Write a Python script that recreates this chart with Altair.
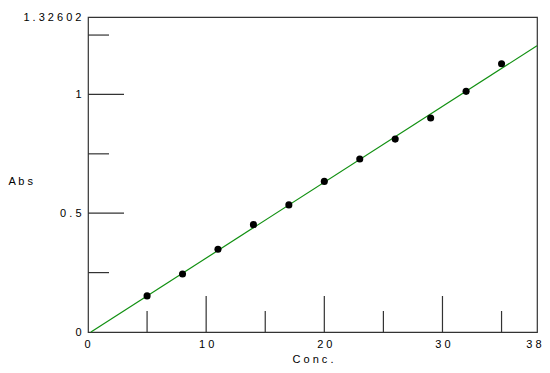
import altair as alt
import pandas as pd

# data
conc = [5, 8, 11, 14, 17, 20, 23, 26, 29, 32, 35]
absorb = [0.152, 0.244, 0.348, 0.452, 0.535, 0.634, 0.728, 0.812, 0.901, 1.013, 1.129]
fit_x = [0.25, 38]
fit_y = [0.0, 1.205]
x_labels = [0, 10, 20, 30, 38]
y_labels = [0, 0.5, 1, 1.32602]
x_major = [10, 20, 30]
x_minor = [5, 15, 25, 35]
y_major = [0.5, 1.0]
y_minor = [0.25, 0.75, 1.25]

W, H = 449, 315
FONT = "Liberation Sans"
FS = 11
X_DOM = [0, 38]
Y_DOM = [0, 1.32602]

pts = pd.DataFrame({"Conc": conc, "Abs": absorb})
fit = pd.DataFrame({"Conc": fit_x, "Abs": fit_y})

xs = alt.Scale(domain=X_DOM, nice=False, zero=False)
ys = alt.Scale(domain=Y_DOM, nice=False, zero=False)

spaced = "join(split(toString(datum.value), ''), ' ')"

x_axis = alt.Axis(
    values=x_labels, labelExpr=spaced, grid=False, domain=False,
    ticks=False, labelPadding=6, labelFont=FONT, labelFontSize=FS, labelColor="black",
    labelOverlap=False, labelFlush=True, labelFlushOffset=4,
    title="C o n c .", titleFont=FONT, titleFontSize=FS, titleFontWeight="normal",
    titleColor="black", titleY=27, titleBaseline="middle",
)
y_axis = alt.Axis(
    values=y_labels, labelExpr=spaced, grid=False, domain=False,
    ticks=False, labelPadding=7, labelFont=FONT, labelFontSize=FS, labelColor="black",
    labelOverlap=False, labelFlush=False,
    title="A b s", titleAngle=0, titleAlign="left", titleX=-80, titleY=164,
    titleBaseline="middle", titleFont=FONT, titleFontSize=FS, titleFontWeight="normal",
    titleColor="black",
)

line = alt.Chart(fit).mark_line(color="#119011", strokeWidth=1.2).encode(
    x=alt.X("Conc:Q", scale=xs, axis=x_axis),
    y=alt.Y("Abs:Q", scale=ys, axis=y_axis),
)
dots = alt.Chart(pts).mark_circle(color="black", opacity=1, size=50).encode(
    x=alt.X("Conc:Q", scale=xs), y=alt.Y("Abs:Q", scale=ys)
)

TICK_COLOR = "#333333"
ymaj = alt.Chart(pd.DataFrame({"v": y_major})).mark_rule(color=TICK_COLOR, strokeWidth=1.2).encode(
    y=alt.Y("v:Q", scale=ys), x=alt.value(0), x2=alt.value(36)
)
ymin = alt.Chart(pd.DataFrame({"v": y_minor})).mark_rule(color=TICK_COLOR, strokeWidth=1.2).encode(
    y=alt.Y("v:Q", scale=ys), x=alt.value(0), x2=alt.value(21)
)
xmaj = alt.Chart(pd.DataFrame({"v": x_major})).mark_rule(color=TICK_COLOR, strokeWidth=1.2).encode(
    x=alt.X("v:Q", scale=xs), y=alt.value(H), y2=alt.value(H - 36)
)
xmin = alt.Chart(pd.DataFrame({"v": x_minor})).mark_rule(color=TICK_COLOR, strokeWidth=1.2).encode(
    x=alt.X("v:Q", scale=xs), y=alt.value(H), y2=alt.value(H - 21)
)

chart = alt.layer(line, ymaj, ymin, xmaj, xmin, dots).properties(
    width=W, height=H,
    autosize=alt.AutoSizeParams(type="none"),
    padding={"left": 80, "top": 9, "right": 5, "bottom": 33},
    background="white",
).configure_view(stroke=TICK_COLOR, strokeWidth=1.2)

chart.save("out.html", embed_options={"renderer": "svg", "actions": False})
